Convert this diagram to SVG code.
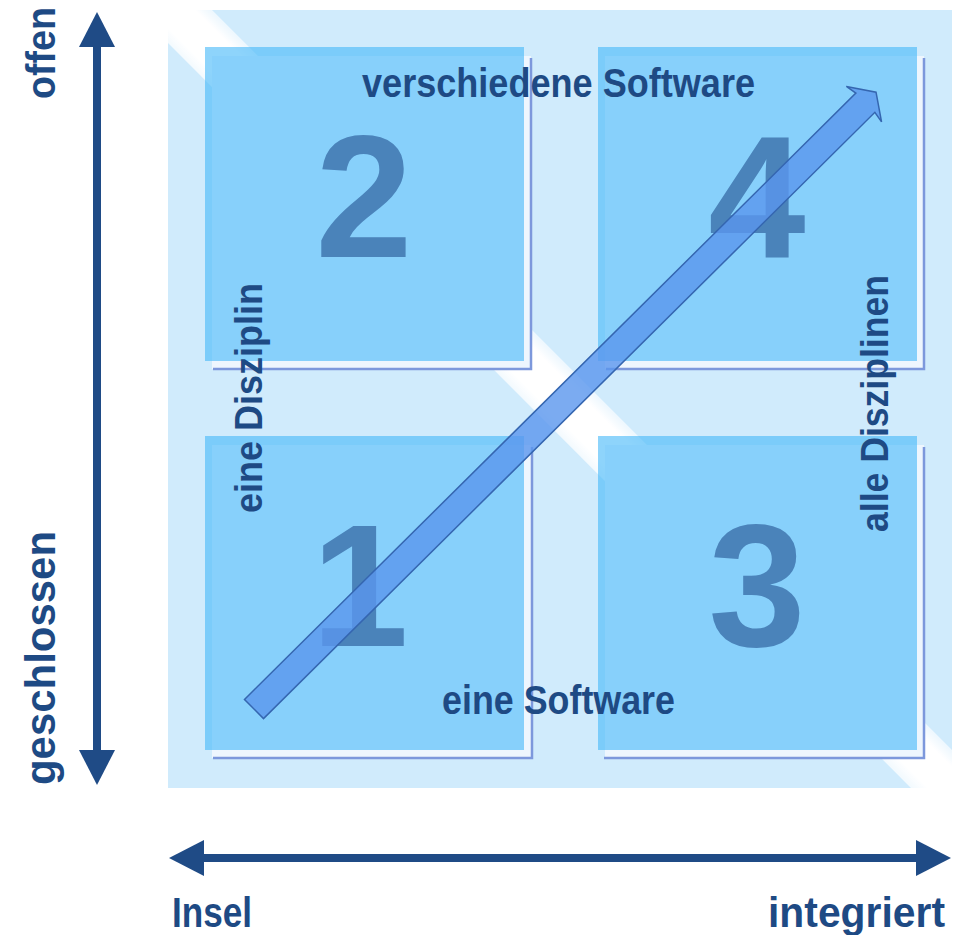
<svg xmlns="http://www.w3.org/2000/svg" width="959" height="935" viewBox="0 0 959 935">
  <style>
    .lbl { font-family: "Liberation Sans", Arial, sans-serif; font-weight: bold; fill: #1e4a84; }
    .num { font-family: "Liberation Sans", Arial, sans-serif; font-weight: bold; fill: #4a83ba; font-size: 175px; text-anchor: middle; }
    .sq { fill: #43b7f8; fill-opacity: 0.6; }
    .shadowfill { fill: #eef6fe; }
    .shadowline { fill: none; stroke: #7d98dc; stroke-width: 2.5; }
    .axis { fill: #1f4b86; }
  </style>
  <defs>
    <linearGradient id="band" gradientUnits="userSpaceOnUse" x1="540" y1="415" x2="577.5" y2="377.5">
      <stop offset="0" stop-color="#ffffff" stop-opacity="0.75"/>
      <stop offset="0.2" stop-color="#ffffff" stop-opacity="1"/>
      <stop offset="0.8" stop-color="#ffffff" stop-opacity="1"/>
      <stop offset="1" stop-color="#ffffff" stop-opacity="0.65"/>
    </linearGradient>
  </defs>
  <rect width="959" height="935" fill="#ffffff"/>

  <g id="background">
    <rect x="168" y="10" width="784" height="778" fill="#d0ebfc"/>
    <polygon points="168,8 210,8 954,752 954,790 913,790 168,43" fill="url(#band)"/>
  </g>

  <g id="q2">
    <rect class="shadowfill" x="212" y="56" width="319" height="313"/>
    <path class="shadowline" d="M531,58 V369 H213"/>
    <rect class="sq" x="205" y="47" width="319" height="314"/>
    <text class="num" x="364" y="257">2</text>
  </g>
  <g id="q4">
    <rect class="shadowfill" x="605" y="56" width="319" height="313"/>
    <path class="shadowline" d="M924,58 V369 H606"/>
    <rect class="sq" x="598" y="47" width="319" height="314"/>
    <text class="num" x="757" y="257">4</text>
  </g>
  <g id="q1">
    <rect class="shadowfill" x="212" y="445" width="319" height="313"/>
    <path class="shadowline" d="M532,447 V758 H213"/>
    <rect class="sq" x="205" y="436" width="319" height="314"/>
    <text class="num" x="360" y="646">1</text>
  </g>
  <g id="q3">
    <rect class="shadowfill" x="605" y="445" width="319" height="313"/>
    <path class="shadowline" d="M924,447 V758 H604"/>
    <rect class="sq" x="598" y="436" width="319" height="314"/>
    <text class="num" x="757" y="646">3</text>
  </g>

  <g id="labels">
    <text class="lbl" x="362" y="97" font-size="41" textLength="393" lengthAdjust="spacingAndGlyphs">verschiedene Software</text>
    <text class="lbl" x="442" y="714" font-size="40" textLength="233" lengthAdjust="spacingAndGlyphs">eine Software</text>
    <text class="lbl" transform="translate(262,513) rotate(-90)" font-size="38" textLength="230" lengthAdjust="spacingAndGlyphs">eine Disziplin</text>
    <text class="lbl" transform="translate(888,532) rotate(-90)" font-size="38" textLength="257" lengthAdjust="spacingAndGlyphs">alle Disziplinen</text>
  </g>

  <g id="connectors">
    <g id="diagonal-arrow" transform="translate(254,709) rotate(-44.76)">
      <polygon points="0,-13.5 861,-13.5 859,-25 876,0 859,25 861,13.5 0,13.5" fill="#5a96ee" fill-opacity="0.8" stroke="#3566b0" stroke-width="1.5" stroke-linejoin="miter"/>
    </g>
    <g id="vertical-axis">
      <rect class="axis" x="93" y="40" width="8" height="712"/>
      <polygon class="axis" points="97,12 115,47 79,47"/>
      <polygon class="axis" points="97,785 115,750 79,750"/>
    </g>
    <g id="horizontal-axis">
      <rect class="axis" x="198" y="854" width="724" height="8"/>
      <polygon class="axis" points="169,858 204,840 204,876"/>
      <polygon class="axis" points="951,858 916,840 916,876"/>
    </g>
  </g>

  <g id="axis-labels">
    <text class="lbl" transform="translate(55,99) rotate(-90)" font-size="40" textLength="92" lengthAdjust="spacingAndGlyphs">offen</text>
    <text class="lbl" transform="translate(55,785) rotate(-90)" font-size="43" textLength="254" lengthAdjust="spacingAndGlyphs">geschlossen</text>
    <text class="lbl" x="172" y="927" font-size="43" textLength="80" lengthAdjust="spacingAndGlyphs">Insel</text>
    <text class="lbl" x="768" y="927" font-size="43" textLength="177" lengthAdjust="spacingAndGlyphs">integriert</text>
  </g>
</svg>
